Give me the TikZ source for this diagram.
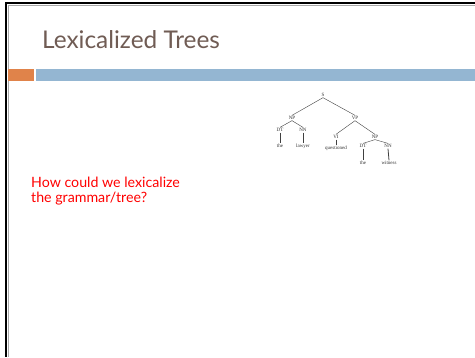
\documentclass[tikz,border=0pt]{standalone}
\usepackage{fontspec}
\setmainfont{Lato}
\newfontfamily\treefont{Liberation Serif}
\definecolor{titlebrown}{HTML}{705C54}
\definecolor{accentorange}{HTML}{E0834A}
\definecolor{accentblue}{HTML}{94B6D2}
\definecolor{framegray}{HTML}{A8A8A8}
\begin{document}
\begin{tikzpicture}[x=1pt,y=-1pt,
  tlabel/.style={font=\treefont\fontsize{5}{5.5}\selectfont, inner sep=0.8pt, text=black!80},
  branch/.style={draw=black!75, line width=0.4pt}]
\useasboundingbox (0,0) rectangle (475,357);
\fill[white] (0,0) rectangle (475,357);
% slide frame
\draw[framegray, line width=1pt] (8,5) -- (475,5);
\draw[framegray, line width=1pt] (8.5,5) -- (8.5,357);
\draw[black, line width=2.2pt] (6,3) -- (475,3);
\draw[black, line width=2.2pt] (6,2) -- (6,357);
% title
\node[anchor=base west, inner sep=0, text=titlebrown, font=\fontsize{24.4}{28}\selectfont] (title) at (42,48.5) {Lexicalized Trees};
% accent bars
\fill[accentorange] (8,69.3) rectangle (34,80.7);
\fill[accentblue] (36,69.3) rectangle (475,80.7);
% question
\node[anchor=north west, align=left, inner sep=0, text=red, font=\fontsize{14.2}{15.5}\selectfont] (question) at (31,176.5) {How could we lexicalize\\the grammar/tree?};
% parse tree
\node[tlabel] (s) at (323,95) {S};
\node[tlabel] (np1) at (292,118) {NP};
\node[tlabel] (vp) at (355,118) {VP};
\node[tlabel] (dt1) at (280,130) {DT};
\node[tlabel] (nn1) at (303,130) {NN};
\node[tlabel] (w1) at (280,146) {the};
\node[tlabel] (w2) at (303,146) {lawyer};
\node[tlabel] (vi) at (336,137) {VI};
\node[tlabel] (w3) at (336,148) {questioned};
\node[tlabel] (np2) at (375,137) {NP};
\node[tlabel] (dt2) at (363,146) {DT};
\node[tlabel] (nn2) at (388,146) {NN};
\node[tlabel] (w4) at (363,163) {the};
\node[tlabel] (w5) at (389,163) {witness};
\draw[branch] (s.south) -- (np1.north);
\draw[branch] (s.south) -- (vp.north);
\draw[branch] (np1.south) -- (dt1.north);
\draw[branch] (np1.south) -- (nn1.north);
\draw[branch, line width=0.8pt] (dt1.south) -- (w1.north);
\draw[branch, line width=0.8pt] (nn1.south) -- (w2.north);
\draw[branch] (vp.south) -- (vi.north);
\draw[branch] (vp.south) -- (np2.north);
\draw[branch, line width=0.8pt] (vi.south) -- (w3.north);
\draw[branch] (np2.south) -- (dt2.north);
\draw[branch] (np2.south) -- (nn2.north);
\draw[branch, line width=0.8pt] (dt2.south) -- (w4.north);
\draw[branch, line width=0.8pt] (nn2.south) -- (w5.north);
\end{tikzpicture}
\end{document}
